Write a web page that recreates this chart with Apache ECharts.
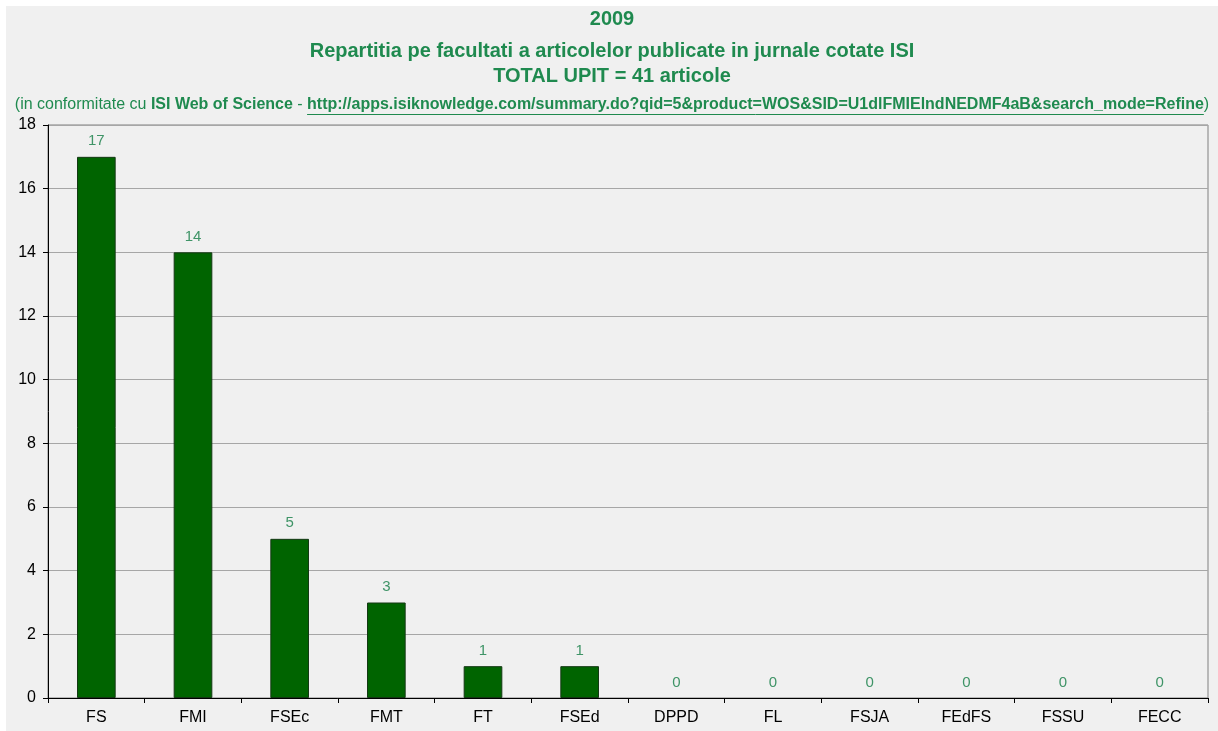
<!DOCTYPE html>
<html>
<head>
<meta charset="utf-8">
<script src="https://cdn.jsdelivr.net/npm/echarts@6/dist/echarts.min.js"></script>
<style>
  html, body { margin: 0; padding: 0; background: #ffffff; }
  #main { position: absolute; left: 6px; top: 6px; width: 1212px; height: 725px; }
</style>
</head>
<body>
<div id="main"></div>
<script>
// date
var faculties = ['FS', 'FMI', 'FSEc', 'FMT', 'FT', 'FSEd', 'DPPD', 'FL', 'FSJA', 'FEdFS', 'FSSU', 'FECC'];
var articles = [17, 14, 5, 3, 1, 1, 0, 0, 0, 0, 0, 0];
var yTicks = [0, 2, 4, 6, 8, 10, 12, 14, 16, 18];

var titleLines = ['2009', 'Repartitia pe facultati a articolelor publicate in jurnale cotate ISI', 'TOTAL UPIT = 41 articole'];
var srcParts = ['(in conformitate cu ', 'ISI Web of Science', ' - ', 'http://apps.isiknowledge.com/summary.do?qid=5&product=WOS&SID=U1dlFMIElndNEDMF4aB&search_mode=Refine', ')'];

var FONT = 'Arial, "Liberation Sans", sans-serif';
var GREEN = '#1f8a4f';
var SRC_SIZE = 16;

var myChart = echarts.init(document.getElementById('main'));
var W = 1212;

// masurare text pentru sublinierea linkului
var cv = document.createElement('canvas').getContext('2d');
function tw(txt, bold, size) {
    cv.font = (bold ? 'bold ' : '') + size + 'px ' + FONT;
    return cv.measureText(txt).width;
}
var srcBold = [false, true, false, true, false];
var widths = srcParts.map(function (p, i) { return tw(p, srcBold[i], SRC_SIZE); });
var total = widths.reduce(function (a, b) { return a + b; }, 0);
var startX = W / 2 - total / 2;
var urlX = startX + widths[0] + widths[1] + widths[2];
var lineY = 108.5;

// barele cu valoarea 0 nu au contur
var barData = articles.map(function (v) {
    return v === 0 ? { value: v, itemStyle: { borderWidth: 0 } } : v;
});

var titleStyle = { fontFamily: FONT, fontSize: 20, fontWeight: 'bold', color: GREEN };

var option = {
    backgroundColor: '#f0f0f0',
    animation: false,
    title: [
        { text: titleLines[0], left: 'center', top: -2, textStyle: titleStyle },
        { text: titleLines[1], left: 'center', top: 30, textStyle: titleStyle },
        { text: titleLines[2], left: 'center', top: 55, textStyle: titleStyle },
        { text: '{n|' + srcParts[0] + '}{b|' + srcParts[1] + '}{n|' + srcParts[2] + '}{b|' + srcParts[3] + '}{n|' + srcParts[4] + '}',
          left: 'center', top: 86,
          textStyle: {
              fontWeight: 'normal',
              rich: {
                  n: { fontFamily: FONT, fontSize: SRC_SIZE, fontWeight: 'normal', color: GREEN },
                  b: { fontFamily: FONT, fontSize: SRC_SIZE, fontWeight: 'bold', color: GREEN }
              }
          } }
    ],
    graphic: [
        { type: 'line', shape: { x1: urlX, y1: lineY, x2: urlX + widths[3], y2: lineY },
          style: { stroke: GREEN, lineWidth: 1 }, silent: true }
    ],
    grid: {
        left: 42,
        right: 10,
        top: 119,
        bottom: 33,
        show: true,
        borderColor: '#808080',
        borderWidth: 1,
        backgroundColor: 'transparent'
    },
    xAxis: {
        type: 'category',
        data: faculties,
        axisLine: { lineStyle: { color: '#000000', width: 1 } },
        axisTick: { show: true, length: 5, lineStyle: { color: '#000000' } },
        axisLabel: { fontFamily: FONT, fontSize: 16, color: '#000000', margin: 12 }
    },
    yAxis: {
        type: 'value',
        min: yTicks[0],
        max: yTicks[yTicks.length - 1],
        interval: 2,
        axisLine: { show: true, lineStyle: { color: '#000000', width: 1 } },
        axisTick: { show: true, length: 5, lineStyle: { color: '#000000' } },
        axisLabel: { fontFamily: FONT, fontSize: 16, color: '#000000', margin: 12 },
        splitLine: { lineStyle: { color: '#a6a6a6', width: 1 } }
    },
    series: [
        {
            type: 'bar',
            data: barData,
            barWidth: '40%',
            itemStyle: { color: '#006400', borderColor: '#143814', borderWidth: 1 },
            label: {
                show: true,
                position: 'top',
                distance: 8,
                fontFamily: FONT,
                fontSize: 15,
                color: '#3f9467'
            }
        }
    ]
};

myChart.setOption(option);
</script>
</body>
</html>
